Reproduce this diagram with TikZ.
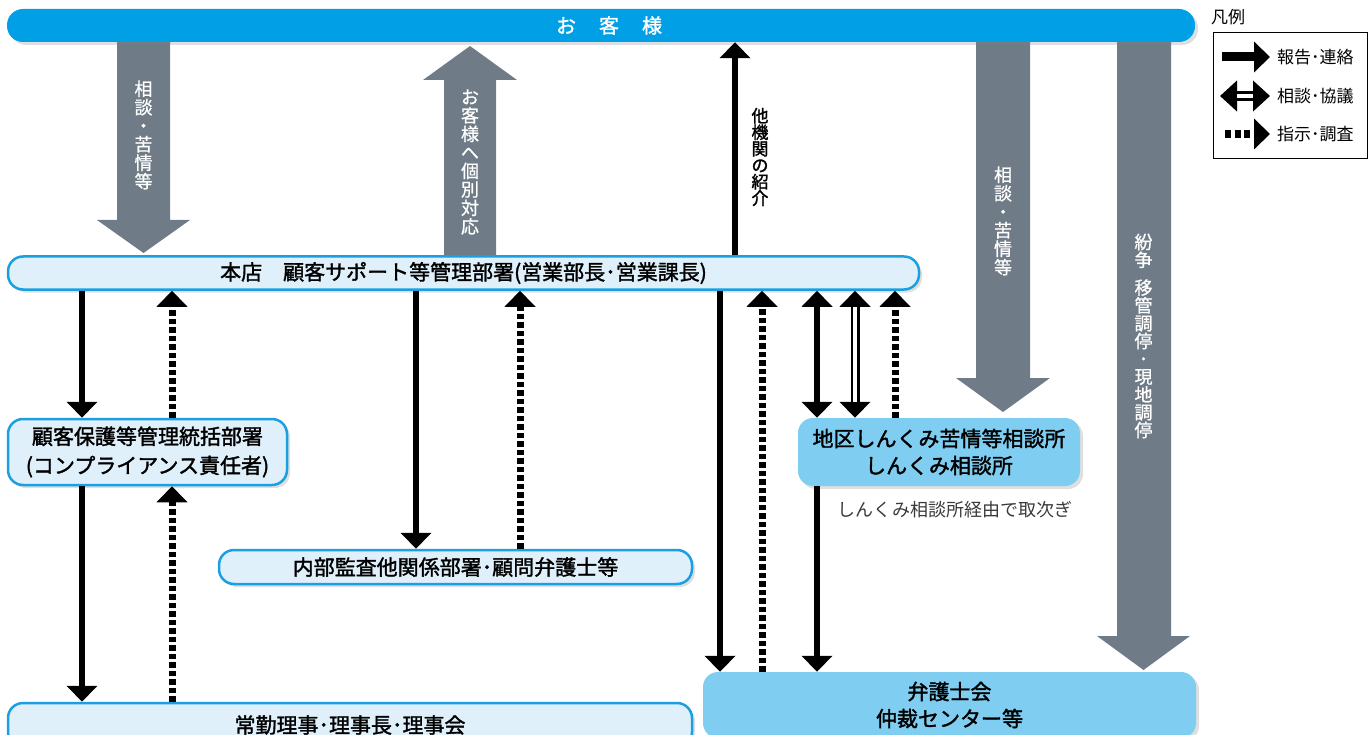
\documentclass[tikz,border=0pt]{standalone}
\usepackage{fontspec}
\setmainfont{Noto Sans CJK JP}
\newfontfamily\medfont{Noto Sans CJK JP}[FakeBold=1.6]
\newfontfamily\semifont{Noto Sans CJK JP}[FakeBold=0.8]
\usetikzlibrary{arrows.meta,shadows,calc}
\definecolor{topblue}{HTML}{009FE6}
\definecolor{lightfill}{HTML}{DFF0FA}
\definecolor{borderblue}{HTML}{1A9FE3}
\definecolor{midblue}{HTML}{7FCDF1}
\definecolor{greyarrow}{HTML}{6F7C87}
\definecolor{notegrey}{HTML}{3A3A3A}
\begin{document}
\begin{tikzpicture}[x=1pt,y=-1pt,
  shadowed/.style={drop shadow={opacity=0.25, shadow xshift=3pt, shadow yshift=-3pt}},
  topbar/.style={fill=topblue, rounded corners=16pt, inner sep=0pt, text=white,
    font=\fontsize{20}{24}\selectfont\medfont, shadowed},
  lightbox/.style={draw=borderblue, line width=2.5pt, fill=lightfill, rounded corners=15pt,
    inner sep=0pt, align=center, font=\fontsize{21}{29}\selectfont\medfont, shadowed},
  midbox/.style={fill=midblue, rounded corners=15pt, inner sep=0pt, align=center,
    font=\fontsize{21}{27}\selectfont\medfont, shadowed},
  vlabel/.style={inner sep=0pt, align=center, text=white, font=\fontsize{18}{18.5}\selectfont\semifont},
  rep/.style={line width=6pt, -{Triangle[width=30pt,length=16pt]}},
  inst/.style={line width=7pt, dash pattern=on 5.5pt off 3pt, -{Triangle[width=30pt,length=16pt]}},
  both/.style={line width=6pt, {Triangle[width=30pt,length=16pt]}-{Triangle[width=30pt,length=16pt]}},
  consult/.style={line width=9pt, {Triangle[width=30pt,length=16pt]}-{Triangle[width=30pt,length=16pt]}},
  consultgap/.style={white, line width=3.5pt, shorten <=16pt, shorten >=16pt},
]
\useasboundingbox (0,0) rectangle (1370,735);
\clip (0,0) rectangle (1370,735);

% grey broad arrows
\fill[greyarrow] (117,40) -- (170,40) -- (170,220) -- (190,220) -- (143.5,253) -- (97,220) -- (117,220) -- cycle;
\fill[greyarrow] (444,256) -- (444,80) -- (423,80) -- (470,46) -- (517,80) -- (496,80) -- (496,256) -- cycle;
\fill[greyarrow] (976,40) -- (1030,40) -- (1030,378) -- (1050,378) -- (1003,412) -- (956,378) -- (976,378) -- cycle;
\fill[greyarrow] (1117,40) -- (1171,40) -- (1171,636) -- (1190,636) -- (1143.5,670) -- (1097,636) -- (1117,636) -- cycle;

% nodes
\node[topbar, minimum width=1188pt, minimum height=33pt] (cust) at (601,25.5)
  {\hspace{16pt}お\hspace{23pt}客\hspace{23pt}様};
\node[lightbox, minimum width=911pt, minimum height=33pt] (hq) at (463.5,273)
  {本店\hspace{1em}顧客サポート等管理部署(営業部長･営業課長)};
\node[lightbox, minimum width=279pt, minimum height=66pt] (cp) at (147.5,452)
  {顧客保護等管理統括部署\\(コンプライアンス責任者)};
\node[lightbox, minimum width=473pt, minimum height=34pt] (audit) at (455.5,567)
  {内部監査他関係部署･顧問弁護士等};
\node[lightbox, minimum width=684pt, minimum height=44pt] (board) at (350,725)
  {常勤理事･理事長･理事会};
\node[midbox, minimum width=282pt, minimum height=68pt] (local) at (939,452)
  {地区しんくみ苦情等相談所\\しんくみ相談所};
\node[midbox, minimum width=493pt, minimum height=66pt] (bar) at (949.5,705)
  {弁護士会\\仲裁センター等};
\node[inner sep=0pt, text=notegrey, font=\fontsize{18}{20}\selectfont] (note) at (955,510)
  {しんくみ相談所経由で取次ぎ};

% labels in grey arrows
\node[vlabel] (l1) at (143.5,135) {相\\談\\・\\苦\\情\\等};
\node[vlabel] (l2) at (470,162) {お\\客\\様\\へ\\個\\別\\対\\応};
\node[vlabel] (l3) at (1003,221) {相\\談\\・\\苦\\情\\等};
\node[vlabel, font=\fontsize{18}{17.8}\selectfont\semifont] (l4) at (1143.5,336) {紛\\争\\[10pt]移\\管\\調\\停\\･\\現\\地\\調\\停};
\node[vlabel, text=black, font=\fontsize{17}{16.5}\selectfont\medfont] (l5) at (760,157) {他\\機\\関\\の\\紹\\介};

% columns
\coordinate (c1) at (82,0);
\coordinate (c2) at (172,0);
\coordinate (c3) at (416,0);
\coordinate (c4) at (520,0);
\coordinate (c5) at (720,0);
\coordinate (c6) at (762,0);
\coordinate (c7) at (817,0);
\coordinate (c8) at (855,0);
\coordinate (c9) at (895,0);
\coordinate (c10) at (735,0);

% connectors
\draw[rep] (c10 |- hq.north) -- (c10 |- cust.south);
\draw[rep] (c1 |- hq.south) -- (c1 |- cp.north);
\draw[inst] (c2 |- cp.north) -- (c2 |- hq.south);
\draw[rep] (c1 |- cp.south) -- (c1 |- board.north);
\draw[inst] (c2 |- board.north) -- (c2 |- cp.south);
\draw[rep] (c3 |- hq.south) -- (c3 |- audit.north);
\draw[inst] (c4 |- audit.north) -- (c4 |- hq.south);
\draw[rep] (c5 |- hq.south) -- (c5 |- bar.north);
\draw[inst] (c6 |- bar.north) -- (c6 |- hq.south);
\draw[both] (c7 |- hq.south) -- (c7 |- local.north);
\draw[consult] (c8 |- hq.south) -- (c8 |- local.north);
\draw[consultgap] (c8 |- hq.south) -- (c8 |- local.north);
\draw[inst] (c9 |- local.north) -- (c9 |- hq.south);
\draw[rep] (c7 |- local.south) -- (c7 |- bar.north);

% legend
\node[inner sep=0pt, anchor=west, font=\fontsize{17}{20}\selectfont] (lgtitle) at (1211,17) {凡例};
\node[draw, line width=1pt, minimum width=154pt, minimum height=126pt, inner sep=0pt] (lgbox) at (1290,96) {};
\coordinate (a1s) at (1222,57);  \coordinate (a1e) at (1270,57);
\coordinate (a2s) at (1220,96);  \coordinate (a2e) at (1270,96);
\coordinate (a3s) at (1225,134); \coordinate (a3e) at (1270,134);
\draw[line width=9pt, -{Triangle[width=30pt,length=16pt]}] (a1s) -- (a1e);
\draw[line width=10pt, {Triangle[width=30pt,length=17pt]}-{Triangle[width=30pt,length=17pt]}] (a2s) -- (a2e);
\draw[white, line width=4pt, shorten <=17pt, shorten >=17pt] (a2s) -- (a2e);
\draw[line width=8pt, dash pattern=on 6pt off 3.5pt, -{Triangle[width=30pt,length=16pt]}] (a3s) -- (a3e);
\node[inner sep=0pt, anchor=west, font=\fontsize{17}{20}\selectfont] (lg1) at (1277,57) {報告･連絡};
\node[inner sep=0pt, anchor=west, font=\fontsize{17}{20}\selectfont] (lg2) at (1277,96) {相談･協議};
\node[inner sep=0pt, anchor=west, font=\fontsize{17}{20}\selectfont] (lg3) at (1277,134) {指示･調査};
\end{tikzpicture}
\end{document}
